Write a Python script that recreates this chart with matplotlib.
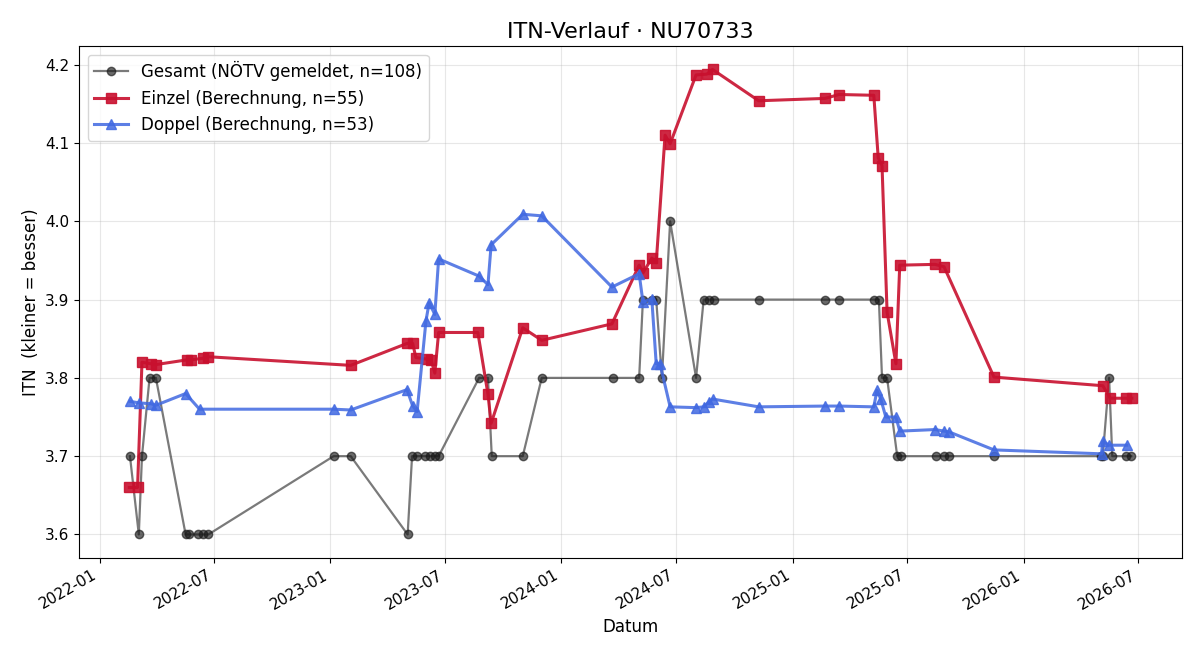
import matplotlib
matplotlib.use("Agg")
import matplotlib.pyplot as plt
import matplotlib.dates as mdates
import pandas as pd

gesamt_dates = [
    "2022-02-18", "2022-03-04", "2022-03-09", "2022-03-21", "2022-03-31",
    "2022-05-17", "2022-05-23", "2022-06-06", "2022-06-14", "2022-06-22",
    "2023-01-06", "2023-02-02", "2023-05-03", "2023-05-10", "2023-05-18",
    "2023-05-30", "2023-06-07", "2023-06-15", "2023-06-21", "2023-08-24",
    "2023-09-07", "2023-09-13", "2023-11-01", "2023-12-01", "2024-03-23",
    "2024-05-03", "2024-05-09", "2024-05-23", "2024-05-30", "2024-06-08",
    "2024-06-21", "2024-08-01", "2024-08-13", "2024-08-21", "2024-08-29",
    "2024-11-08", "2025-02-21", "2025-03-15", "2025-05-09", "2025-05-17",
    "2025-05-22", "2025-05-30", "2025-06-15", "2025-06-21", "2025-08-15",
    "2025-08-28", "2025-09-05", "2025-11-15", "2026-05-03", "2026-05-06",
    "2026-05-16", "2026-05-21", "2026-06-12", "2026-06-20",
]
gesamt_itn = [
    3.70, 3.60, 3.70, 3.80, 3.80,
    3.60, 3.60, 3.60, 3.60, 3.60,
    3.70, 3.70, 3.60, 3.70, 3.70,
    3.70, 3.70, 3.70, 3.70, 3.80,
    3.80, 3.70, 3.70, 3.80, 3.80,
    3.80, 3.90, 3.90, 3.90, 3.80,
    4.00, 3.80, 3.90, 3.90, 3.90,
    3.90, 3.90, 3.90, 3.90, 3.90,
    3.80, 3.80, 3.70, 3.70, 3.70,
    3.70, 3.70, 3.70, 3.70, 3.70,
    3.80, 3.70, 3.70, 3.70,
]

einzel_dates = [
    "2022-02-17", "2022-03-02", "2022-03-09", "2022-03-23", "2022-03-31",
    "2022-05-19", "2022-05-25", "2022-06-13", "2022-06-22", "2023-02-02",
    "2023-05-02", "2023-05-11", "2023-05-16", "2023-06-02", "2023-06-09",
    "2023-06-15", "2023-06-21", "2023-08-22", "2023-09-07", "2023-09-12",
    "2023-11-01", "2023-12-01", "2024-03-21", "2024-05-03", "2024-05-09",
    "2024-05-23", "2024-05-30", "2024-06-13", "2024-06-21", "2024-08-01",
    "2024-08-18", "2024-08-27", "2024-11-08", "2025-02-21", "2025-03-15",
    "2025-05-09", "2025-05-16", "2025-05-22", "2025-05-30", "2025-06-13",
    "2025-06-19", "2025-08-14", "2025-08-28", "2025-11-15", "2026-05-06",
    "2026-05-18", "2026-06-12", "2026-06-21",
]
einzel_itn = [
    3.660, 3.660, 3.820, 3.818, 3.817,
    3.823, 3.823, 3.825, 3.827, 3.816,
    3.844, 3.844, 3.826, 3.824, 3.823,
    3.806, 3.858, 3.858, 3.779, 3.742,
    3.864, 3.848, 3.869, 3.944, 3.934,
    3.953, 3.947, 4.110, 4.099, 4.187,
    4.188, 4.194, 4.154, 4.157, 4.162,
    4.161, 4.081, 4.071, 3.884, 3.818,
    3.944, 3.945, 3.942, 3.801, 3.790,
    3.774, 3.774, 3.774,
]

doppel_dates = [
    "2022-02-18", "2022-03-05", "2022-03-23", "2022-03-31", "2022-05-17",
    "2022-06-08", "2023-01-06", "2023-02-02", "2023-05-02", "2023-05-11",
    "2023-05-18", "2023-06-01", "2023-06-06", "2023-06-15", "2023-06-21",
    "2023-08-24", "2023-09-07", "2023-09-12", "2023-11-01", "2023-12-01",
    "2024-03-21", "2024-05-03", "2024-05-09", "2024-05-23", "2024-05-30",
    "2024-06-05", "2024-06-21", "2024-08-01", "2024-08-13", "2024-08-21",
    "2024-08-27", "2024-11-08", "2025-02-21", "2025-03-15", "2025-05-09",
    "2025-05-14", "2025-05-20", "2025-05-28", "2025-06-13", "2025-06-19",
    "2025-08-14", "2025-08-28", "2025-09-05", "2025-11-15", "2026-05-04",
    "2026-05-06", "2026-05-16", "2026-06-13",
]
doppel_itn = [
    3.770, 3.768, 3.767, 3.765, 3.780,
    3.760, 3.760, 3.759, 3.785, 3.764,
    3.757, 3.873, 3.896, 3.881, 3.952,
    3.930, 3.919, 3.970, 4.009, 4.007,
    3.916, 3.933, 3.897, 3.901, 3.818,
    3.818, 3.763, 3.762, 3.763, 3.769,
    3.773, 3.763, 3.764, 3.764, 3.763,
    3.784, 3.773, 3.750, 3.750, 3.732,
    3.734, 3.732, 3.731, 3.708, 3.703,
    3.719, 3.714, 3.714,
]

title = "ITN-Verlauf · NU70733"
labels = ["Gesamt (NÖTV gemeldet, n=108)", "Einzel (Berechnung, n=55)", "Doppel (Berechnung, n=53)"]

fig, ax = plt.subplots(figsize=(12, 6.6), dpi=100)

ax.plot(pd.to_datetime(gesamt_dates), gesamt_itn, color="#333333", alpha=0.65,
        marker="o", markersize=6, markerfacecolor="#1a1a1a", markeredgecolor="#1a1a1a",
        linewidth=1.6, label=labels[0], zorder=2)
ax.plot(pd.to_datetime(einzel_dates), einzel_itn, color="#c8102e", alpha=0.9,
        marker="s", markersize=7, linewidth=2.2, label=labels[1], zorder=3)
ax.plot(pd.to_datetime(doppel_dates), doppel_itn, color="#4169e1", alpha=0.85,
        marker="^", markersize=7, linewidth=2.2, label=labels[2], zorder=3)

ax.set_title(title, fontsize=16)
ax.set_xlabel("Datum", fontsize=12)
ax.set_ylabel("ITN  (kleiner = besser)", fontsize=12)
ax.tick_params(labelsize=11)
ax.grid(True, alpha=0.3)
ax.xaxis.set_major_locator(mdates.MonthLocator(bymonth=[1, 7]))
ax.xaxis.set_major_formatter(mdates.DateFormatter("%Y-%m"))
ax.legend(loc="upper left", fontsize=12)
fig.autofmt_xdate()
fig.subplots_adjust(left=0.066, right=0.985, top=0.93, bottom=0.155)
fig.savefig("out.png", dpi=100)
